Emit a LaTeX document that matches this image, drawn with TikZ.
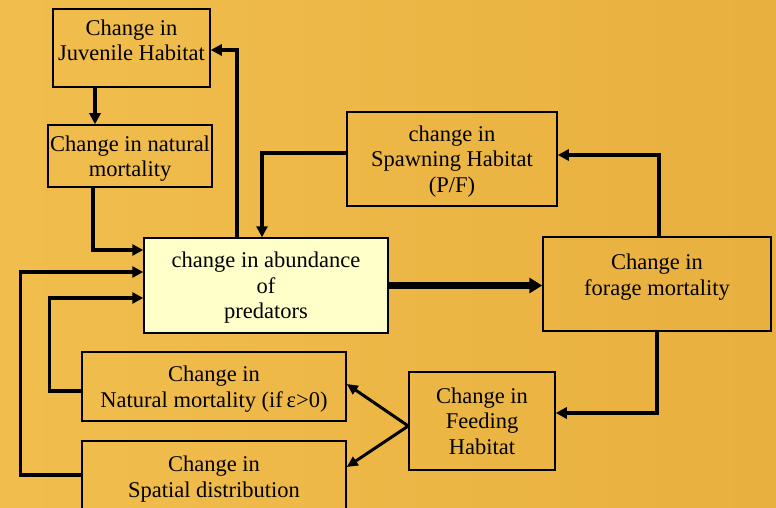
\documentclass[tikz,border=0pt]{standalone}
\usepackage{fontspec}
\setmainfont{Liberation Serif}
\newfontfamily\timesfont{Liberation Serif}
\usetikzlibrary{arrows.meta,calc}
\definecolor{bgA}{RGB}{241,190,78}
\definecolor{bgB}{RGB}{232,176,62}
\definecolor{paleY}{RGB}{255,255,202}
\tikzset{
  boxnode/.style={draw=black,line width=1.5pt,inner sep=0pt,align=center,text depth=0pt,
    font=\timesfont\fontsize{22.5}{25.5}\selectfont},
  arr/.style={line width=3.5pt,-{Triangle[length=11pt,width=11pt]}},
  thinarr/.style={line width=3pt,-{Triangle[length=11pt,width=10pt]}},
  thickarr/.style={line width=6.5pt,-{Triangle[length=13pt,width=15pt]}},
}
\begin{document}
\begin{tikzpicture}[x=1pt,y=-1pt]
\useasboundingbox (0,0) rectangle (776,508);
\clip (0,0) rectangle (776,508);
\shade[left color=bgA,right color=bgB] (0,0) rectangle (776,508);

\node[boxnode,minimum width=157pt,minimum height=78pt] (juv) at (131.5,48) {Change in\\Juvenile Habitat\\[-10pt]\strut};
\node[boxnode,minimum width=164pt,minimum height=62pt] (natm) at (130,156) {Change in natural\\mortality};
\node[boxnode,fill=paleY,minimum width=244pt,minimum height=95pt] (abund) at (266,285.5) {change in abundance\\of\\predators};
\node[boxnode,minimum width=210pt,minimum height=94pt] (spawn) at (452,159) {change in\\Spawning Habitat\\(P/F)};
\node[boxnode,minimum width=228pt,minimum height=94pt] (forage) at (657,284) {Change in\\forage mortality\\[-7pt]\strut};
\node[boxnode,minimum width=146pt,minimum height=98pt] (feed) at (482,421) {Change in\\Feeding\\Habitat};
\node[boxnode,minimum width=264pt,minimum height=69pt] (nmtwo) at (214,386.5) {Change in\\Natural mortality (if\,ε>0)};
\node[boxnode,minimum width=264pt,minimum height=71pt] (spat) at (214,476.5) {Change in\\Spatial distribution};

% Juvenile -> natural mortality
\coordinate (j1) at ($(juv.south)+(-36.5,0)$);
\draw[arr] (j1) -- (j1 |- natm.north);
% natural mortality -> abundance
\coordinate (a1) at ($(abund.west)+(0,-35.5)$);
\draw[arr] ($(natm.south)+(-37,0)$) |- (a1);
% abundance -> juvenile
\draw[arr] ($(abund.north)+(-29,0)$) |- ($(juv.east)+(0,2)$);
% spawning -> abundance
\draw[arr] ($(spawn.west)+(0,-6)$) -| ($(abund.north)+(-4,0)$);
% abundance -> forage
\draw[thickarr] (abund.east) -- (abund.east -| forage.west);
% forage -> spawning
\draw[arr] ($(forage.north)+(2,0)$) |- ($(spawn.east)+(0,-4)$);
% forage -> feeding
\draw[arr] (forage.south) |- ($(feed.east)+(0,-8)$);
% feeding -> natural mortality / spatial
\coordinate (f1) at ($(feed.west)+(0,5)$);
\draw[thinarr] (f1) -- ($(nmtwo.east)+(0,-2.5)$);
\draw[thinarr] (f1) -- ($(spat.east)+(0,-9.5)$);
% natural mortality (eps) -> abundance
\draw[arr] ($(nmtwo.west)+(0,4.5)$) -- ($(nmtwo.west)+(-32,4.5)$) |- ($(abund.west)+(0,12.5)$);
% spatial -> abundance
\draw[arr] ($(spat.west)+(0,-1.5)$) -- ($(spat.west)+(-61,-1.5)$) |- ($(abund.west)+(0,-13.5)$);
\end{tikzpicture}
\end{document}
